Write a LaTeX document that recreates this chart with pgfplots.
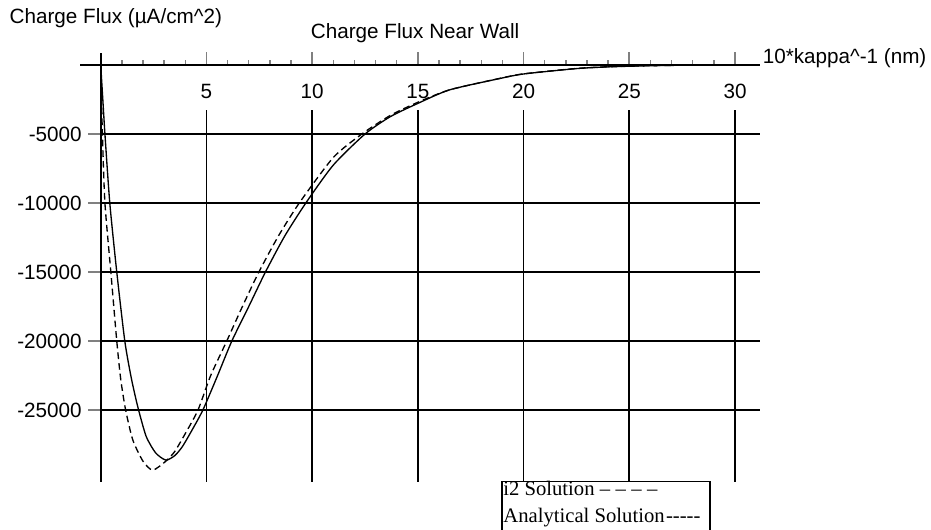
\documentclass[border=0pt]{standalone}
\usepackage{pgfplots}
\pgfplotsset{compat=1.18}
\usepackage{fontspec}
\setmainfont{Liberation Sans}
\newfontfamily\legendfont{Liberation Serif}
\newcommand\sz{\fontsize{15.5}{18}\selectfont}

\begin{document}
\begin{tikzpicture}
\begin{axis}[
  scale only axis, width=510pt, height=321.9pt,
  xmin=-0.97, xmax=31.2, ymin=-30200, ymax=900,
  axis x line=middle, axis y line=middle,
  axis line style={-, line width=1.2pt},
  clip=false,
  scaled y ticks=false, scaled x ticks=false,
  tick align=center,
  xtick={0,5,10,15,20,25,30}, xticklabels={,5,10,15,20,25,30},
  minor x tick num=4,
  ytick={-25000,-20000,-15000,-10000,-5000},
  yticklabels={-25000,-20000,-15000,-10000,-5000},
  major tick length=9.5pt, minor tick length=3.5pt,
  major x tick style={line width=1.2pt, yshift=4.75pt},
  minor x tick style={line width=1pt, yshift=1.75pt},
  major y tick style={line width=1.2pt, xshift=-4.75pt},
  tick label style={font=\sz},
  xticklabel style={anchor=north, yshift=-6pt},
  yticklabel style={anchor=east, xshift=-6pt},
]
% grid
\pgfplotsinvokeforeach{-5000,-10000,-15000,-20000,-25000}{
  \draw[line width=1.2pt] (axis cs:0,#1) -- (axis cs:31.2,#1);}
\pgfplotsinvokeforeach{5,10,15,20,25,30}{
  \draw[line width=1.2pt] (axis cs:#1,-3260) -- (axis cs:#1,-30200);}

% Analytical solution (solid)
\addplot[black, line width=1pt, smooth, tension=0.4] coordinates {
(0,0) (0.1,-2500) (0.2,-5000) (0.43,-10000) (0.76,-15000) (1.14,-20000)
(1.45,-22700) (1.76,-24800) (2.15,-26900) (2.6,-28100) (3.08,-28620)
(3.5,-28300) (3.86,-27650) (4.3,-26500) (4.83,-25000) (5.5,-22600)
(6.2,-20000) (7.0,-17500) (7.79,-15000) (8.7,-12400) (9.7,-10000)
(11.0,-7250) (12.5,-5000) (13.7,-3740) (15,-2780) (16.5,-1800)
(18.9,-970) (20,-650) (22.5,-260) (24.1,-130) (26,-50) (28,-5)
};
% i2 solution (dashed)
\addplot[black, line width=1pt, dash pattern=on 5pt off 3pt, smooth, tension=0.4] coordinates {
(0,0) (0.08,-5000) (0.2,-10000) (0.48,-15000) (0.76,-20000) (0.95,-22800)
(1.18,-25000) (1.52,-27170) (2.0,-28700) (2.46,-29350) (3.08,-28700)
(3.5,-28000) (4.0,-26700) (4.6,-25000) (5.2,-22500) (5.96,-20000)
(6.7,-17500) (7.48,-15000) (8.4,-12400) (9.39,-10000) (11.0,-6700)
(12.35,-5000) (13.7,-3650) (15,-2700) (16.5,-1800) (18.9,-960) (20,-640)
(22.5,-250) (24.1,-120) (26,-50) (28,-5)
};

% texts
\node[font=\sz, anchor=base, inner sep=0pt] at (axis cs:14.87,1956) {Charge Flux Near Wall};
\node[font=\sz, anchor=base west, inner sep=0pt] at (axis cs:-4.32,2971) {Charge Flux (µA/cm\textasciicircum 2)};
\node[font=\sz, anchor=base west, inner sep=0pt] at (axis cs:31.3,100) {10*kappa\textasciicircum -1 (nm)};

% legend
\draw[line width=0.9pt] (axis cs:18.98,-30143) rectangle (axis cs:28.82,-34500);
\node[font=\legendfont\sz, anchor=base west, inner sep=0pt] at (axis cs:19.03,-31158) {i2 Solution\hspace{4pt}–\hspace{4pt}–\hspace{4pt}–\hspace{4pt}–};
\node[font=\legendfont\sz, anchor=base west, inner sep=0pt] at (axis cs:19.03,-33114) {Analytical Solution\hspace{1pt}-\kern0pt-\kern0pt-\kern0pt-\kern0pt-};

\coordinate (bl) at (axis cs:-4.763,-33621);
\coordinate (tr) at (axis cs:39.27,4710);
\end{axis}
\pgfresetboundingbox
\path[use as bounding box] (bl) rectangle (tr);
\end{tikzpicture}
\end{document}
